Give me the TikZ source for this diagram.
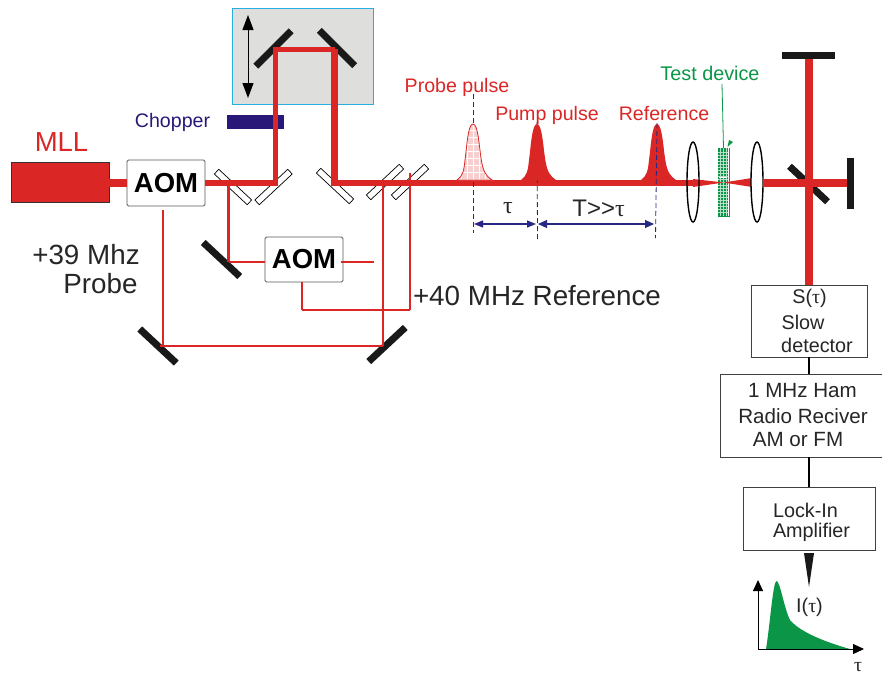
\documentclass[tikz,border=0pt]{standalone}
\usepackage{fontspec}
\setmainfont{Liberation Sans}
\newfontfamily\taufont{Liberation Serif}
\usetikzlibrary{arrows.meta,calc,positioning,shapes.geometric}
\definecolor{beamred}{RGB}{219,38,38}
\definecolor{stagegrey}{RGB}{222,222,220}
\definecolor{stagecyan}{RGB}{40,175,225}
\definecolor{chopblue}{RGB}{42,24,120}
\definecolor{devgreen}{RGB}{10,150,70}
\definecolor{markblue}{RGB}{40,40,130}
\newcommand{\tauchar}{{\taufont τ}}
\newcommand{\pulsepath}[1]{%
  ({#1-16},180) .. controls ({#1-10},176) and ({#1-9},170) .. ({#1-8},160)
  .. controls ({#1-6},145) and ({#1-5},124) .. (#1,124)
  .. controls ({#1+5},124) and ({#1+6},145) .. ({#1+8},158)
  .. controls ({#1+10},172) and ({#1+13},176) .. ({#1+19},180) -- cycle
}
\tikzset{
  mirrorbar/.style={fill=black!90,minimum width=#1,minimum height=7pt,inner sep=0pt,outer sep=0pt},
  splitter/.style={draw=black,fill=white,line width=.7pt,minimum width=45pt,minimum height=6.5pt,inner sep=0pt},
  aombox/.style={draw=black!65,fill=white,rounded corners=1.5pt,line width=.8pt,inner sep=0pt,
    font=\fontsize{27.5}{30}\selectfont\bfseries},
  infobox/.style={draw=black!75,fill=white,line width=.7pt,inner sep=0pt},
  boxtext/.style={inner sep=0pt,font=\fontsize{19.8}{22}\selectfont,text=black!85},
  hamtext/.style={inner sep=0pt,font=\fontsize{20.6}{22}\selectfont,text=black!85},
  bigtext/.style={inner sep=0pt,font=\fontsize{27.8}{30}\selectfont,text=black!85},
  redtext/.style={inner sep=0pt,font=\fontsize{19.6}{22}\selectfont,text=beamred},
  mainbeam/.style={draw=beamred,line width=6pt},
  armbeam/.style={draw=beamred,line width=2.6pt},
  thinbeam/.style={draw=beamred,line width=1.3pt},
  markline/.style={draw=markblue,line width=.8pt,dashed,dash pattern=on 5pt off 3pt},
  gapline/.style={draw=markblue,line width=1.1pt},
  bigtip/.style={-{Triangle[length=11pt,width=10pt]}}
}
\begin{document}
\begin{tikzpicture}[x=1pt,y=-1pt]
  \useasboundingbox (0,0) rectangle (882,675);

  \node[draw=stagecyan,fill=stagegrey,line width=.8pt,minimum width=141pt,minimum height=96pt,inner sep=0pt] (stage) at (302.5,56) {};
  \node[fill=chopblue,minimum width=57pt,minimum height=14pt,inner sep=0pt] (chopper) at (255.5,122) {};
  \node[inner sep=0pt,font=\fontsize{19.6}{22}\selectfont,text=chopblue] (choplabel) at (172.5,122) {Chopper};
  \draw[black,line width=1pt,{Triangle[length=15pt,width=11pt]}-{Triangle[length=15pt,width=11pt]}] (248,15) -- (248,98);

  \node[splitter,rotate=-43] (splita) at (233,187) {};
  \node[splitter,rotate=43] (splitb) at (273.5,187) {};
  \node[splitter,rotate=-43] (splitc) at (335,186) {};
  \node[splitter,rotate=43] (splitd) at (385,182) {};
  \node[splitter,rotate=43] (splite) at (410,182) {};

  \node[mirrorbar=50pt,rotate=45] (stageleft) at (273.5,48.5) {};
  \node[mirrorbar=50pt,rotate=-45] (stageright) at (337,48) {};
  \node[mirrorbar=50pt,rotate=-43] (midmirror) at (221.5,259.5) {};
  \node[mirrorbar=50pt,rotate=-43] (lowleft) at (158,346) {};
  \node[mirrorbar=50pt,rotate=43] (lowright) at (387,344.5) {};
  \node[mirrorbar=53pt] (topmirror) at (808.5,55.5) {};
  \node[mirrorbar=51pt,rotate=90] (endmirror) at (850,183.5) {};
  \node[mirrorbar=52pt,rotate=-43] (outmirror) at (808.5,184) {};

  \node[draw=black!80,fill=beamred,line width=.8pt,minimum width=98pt,minimum height=40pt,inner sep=0pt] (mll) at (60,182) {};
  \node[inner sep=0pt,font=\fontsize{27.5}{30}\selectfont,text=beamred] (mlllabel) at (61.5,142) {MLL};
  \node[aombox,minimum width=78pt,minimum height=46pt] (aomone) at (166,183) {AOM};
  \node[aombox,minimum width=78pt,minimum height=45pt] (aomtwo) at (304,259.5) {AOM};

  \coordinate (turnone) at (275.5,183);
  \coordinate (turntwo) at (275.5,49);
  \coordinate (turnthree) at (334.5,49);
  \coordinate (turnfour) at (334.5,183);
  \coordinate (lensin) at (693,183);
  \coordinate (tapleft) at (228.5,183);
  \coordinate (tapmid) at (228.5,262);
  \coordinate (tapright) at (383,183);
  \coordinate (taplow) at (383,346);
  \coordinate (aomdrop) at (163,346);
  \coordinate (midout) at (374,262);
  \coordinate (refup) at (410,173);
  \coordinate (refdown) at (410,310);
  \coordinate (refleft) at (302,310);

  \draw[beamred,line width=8pt] (aomone.west -| mll.east) -- (aomone.west);
  \draw[mainbeam] (aomone.east) -- (turnone);
  \draw[beamred,line width=5pt,line join=miter] (turnone) ++(0,3) -- (turntwo) -- (turnthree);
  \draw[beamred,line width=7pt,line join=miter] (turnthree) -- (turnfour);
  \draw[mainbeam] (turnfour) ++(-3.5,0) -- (lensin);
  \draw[armbeam] (tapleft) -- (tapmid);
  \draw[thinbeam] (tapmid) -- (tapmid -| aomtwo.west);
  \draw[thinbeam] (midout -| aomtwo.east) ++(-2,0) -- (midout);
  \draw[armbeam] (aomdrop |- aomone.south) ++(0,4) -- (aomdrop);
  \draw[thinbeam] (lowleft.center) ++(2,0) -- (taplow);
  \draw[armbeam] (taplow) -- (tapright);
  \draw[armbeam] (refup) -- (refdown);
  \draw[thinbeam] (refdown) -- (refleft);
  \draw[armbeam] (refleft |- aomtwo.south) -- (refleft);

  \coordinate (probetop) at (473,94);
  \coordinate (probelow) at (473,233);
  \coordinate (pumptop) at (537,122);
  \coordinate (pumplow) at (537.5,240);
  \coordinate (reftop) at (657,123);
  \coordinate (reflow) at (655.5,238);
  \draw[markline] (probetop) -- (probelow);
  \draw[markline] (pumptop) -- (pumplow);

  \begin{scope}
    \clip \pulsepath{473};
    \fill[beamred!22] (450,120) rectangle (500,185);
    \foreach \gridx in {461,467,...,491}{\draw[white,line width=.4pt] (\gridx,120) -- (\gridx,185);}
    \foreach \gridy in {130,137,...,180}{\draw[white,line width=.4pt] (450,\gridy) -- (500,\gridy);}
  \end{scope}
  \draw[beamred,line width=.8pt] \pulsepath{473};
  \fill[beamred] \pulsepath{537};
  \fill[beamred] \pulsepath{657};
  \draw[markline] (reftop) -- (reflow);

  \node[redtext] (probelabel) at (457,87) {Probe pulse};
  \node[redtext] (pumplabel) at (547,115) {Pump pulse};
  \node[redtext] (reflabel) at (664,114) {Reference};

  \draw[gapline,{Triangle[length=9pt,width=7pt]}-{Triangle[length=9pt,width=7pt]}] (474,224) -- (536,224);
  \draw[gapline,{Triangle[fill=markblue,length=9pt,width=8pt]}-{Triangle[fill=markblue,length=9pt,width=8pt]}] (538,224) -- (654,224);
  \node[inner sep=0pt,font=\fontsize{24}{26}\selectfont,text=black!85] (taulabel) at (508,208) {\tauchar};
  \node[inner sep=0pt,font=\fontsize{24}{26}\selectfont,text=black!85] (gaplabel) at (598.5,208) {T{>}{>}\tauchar};

  \coordinate (devicetop) at (723.5,148);
  \node[draw=devgreen,fill=devgreen,line width=.5pt,minimum width=11pt,minimum height=68pt,inner sep=0pt] (device) at (723.5,182) {};
  \foreach \gridy in {152,155,...,214}{\draw[white!70!devgreen,line width=.4pt] (718,\gridy) -- (729,\gridy);}
  \foreach \gridx in {720.5,723.5,726.5}{\draw[white!70!devgreen,line width=.4pt] (\gridx,148) -- (\gridx,216);}
  \draw[white,line width=1pt] (728,148) -- (728,216);
  \draw[white,line width=1pt] (719,177) -- (727,177);
  \fill[beamred] (lensin) ++(0,-4) -- (723.5,182.5) -- (693,187) -- cycle;
  \fill[beamred] (723.5,182.5) -- (752,178) -- (752,187) -- cycle;
  \fill[devgreen] (727.5,147) -- (729,140) -- (733,142) -- cycle;
  \node[inner sep=0pt,font=\fontsize{19.8}{22}\selectfont,text=devgreen] (devicelabel) at (710,73) {Test device};
  \draw[devgreen,line width=.8pt] (722,84) -- (devicetop);

  \node[draw=black,line width=1.4pt,ellipse,minimum width=12pt,minimum height=80pt,inner sep=0pt] (lensone) at (693,182) {};
  \node[draw=black,fill=white,line width=1.4pt,ellipse,minimum width=12pt,minimum height=80pt,inner sep=0pt] (lenstwo) at (757,182) {};

  \coordinate (beamtop) at (809,59);
  \coordinate (endhit) at (847,183);
  \draw[beamred,line width=8pt] (endhit -| lenstwo.east) ++(-0.5,0) -- (endhit);
  \draw[beamred,line width=8pt] (beamtop) -- (809,285);

  \node[infobox,minimum width=116pt,minimum height=72pt] (slowbox) at (809,321) {};
  \node[infobox,minimum width=175pt,minimum height=83pt] (hambox) at (807.5,415.5) {};
  \node[infobox,minimum width=132pt,minimum height=63pt] (lockbox) at (809,518.5) {};
  \draw[black,line width=1.4pt] (slowbox.south) -- (slowbox.south |- hambox.north);
  \draw[black,line width=1.4pt] (lockbox.north |- hambox.south) -- (lockbox.north);

  \node[boxtext] (slowa) at (809.5,298) {S(\tauchar)};
  \node[boxtext] (slowb) at (803,322) {Slow};
  \node[boxtext] (slowc) at (817,345) {detector};
  \node[hamtext] (hama) at (802.5,391) {1 MHz Ham};
  \node[hamtext] (hamb) at (803,416) {Radio Reciver};
  \node[hamtext] (hamc) at (798,440) {AM or FM};
  \node[boxtext] (locka) at (805.5,510) {Lock-In};
  \node[boxtext] (lockb) at (811.5,532) {Amplifier};

  \coordinate (wedgetip) at (809,587);
  \fill[black!90] (804,553) -- (814,553) -- (wedgetip) -- cycle;

  \coordinate (plotorigin) at (758,649);
  \coordinate (plottop) at (758,580);
  \coordinate (plotright) at (864,649);
  \fill[devgreen] (766,649) .. controls (770,625) and (773,581) .. (776.5,581)
    .. controls (780,581) and (784,608) .. (790,620)
    .. controls (800,632) and (825,642) .. (850,649) -- cycle;
  \draw[black,line width=1pt,bigtip] (plotorigin) -- (plottop);
  \draw[black,line width=1pt,bigtip] (plotorigin) -- (plotright);
  \node[boxtext] (curvelabel) at (809.5,607) {I(\tauchar)};
  \node[boxtext] (axislabel) at (858,667) {\tauchar};

  \node[bigtext] (probefreq) at (86,255) {+39 Mhz};
  \node[bigtext] (probename) at (100.5,284) {Probe};
  \node[bigtext] (reffreq) at (537,296) {+40 MHz Reference};
\end{tikzpicture}
\end{document}
